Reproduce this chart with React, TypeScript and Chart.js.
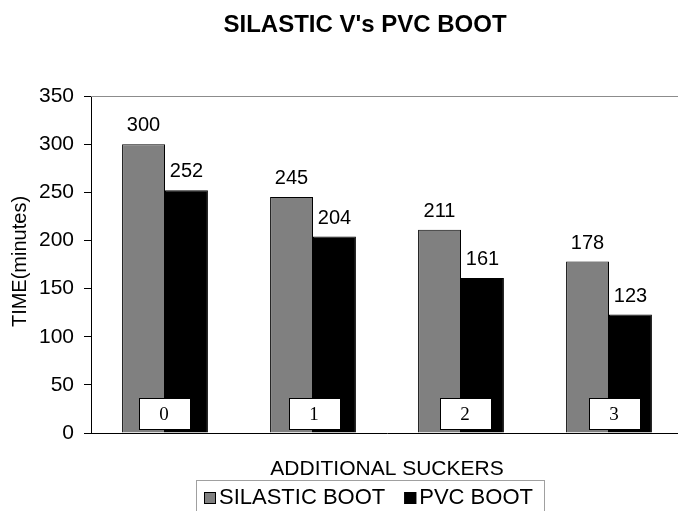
import React, { useEffect, useRef } from 'react';
import { Chart, registerables } from 'chart.js';

Chart.register(...registerables);

const categories = ['0', '1', '2', '3'];
const silasticValues = [300, 245, 211, 178];
const pvcValues = [252, 204, 161, 123];
const seriesNames = ['SILASTIC BOOT', 'PVC BOOT'];
const yMin = 0;
const yMax = 350;
const yStep = 50;
const chartTitle = "SILASTIC V's PVC BOOT";
const xAxisTitle = 'ADDITIONAL SUCKERS';
const yAxisTitle = 'TIME(minutes)';

const SANS = '"Liberation Sans", Arial, Helvetica, sans-serif';
const SERIF = '"Liberation Serif", "Times New Roman", serif';
const GRAY = '#808080';

const decorPlugin = {
  id: 'decor',
  afterDraw(chart: any) {
    const ctx = chart.ctx as CanvasRenderingContext2D;
    const area = chart.chartArea;
    const xScale = chart.scales.x;
    ctx.save();

    // top frame line
    ctx.strokeStyle = '#8c8c8c';
    ctx.lineWidth = 1;
    ctx.beginPath();
    ctx.moveTo(area.left, Math.round(area.top) + 0.5);
    ctx.lineTo(area.right, Math.round(area.top) + 0.5);
    ctx.stroke();

    // value labels
    ctx.fillStyle = '#000';
    ctx.font = `20px ${SANS}`;
    ctx.textAlign = 'center';
    ctx.textBaseline = 'alphabetic';
    chart.data.datasets.forEach((ds: any, di: number) => {
      const meta = chart.getDatasetMeta(di);
      meta.data.forEach((el: any, i: number) => {
        ctx.fillText(String(ds.data[i]), el.x, el.y - 13);
      });
    });

    // category label boxes
    const boxShift = [-1, 1, 4, 5];
    categories.forEach((c, i) => {
      const cx = xScale.getPixelForValue(i) + boxShift[i];
      const bw = 51;
      const bh = 31;
      const by = area.bottom - 35;
      ctx.fillStyle = '#fff';
      ctx.fillRect(Math.round(cx - bw / 2), by, bw, bh);
      ctx.strokeStyle = '#000';
      ctx.lineWidth = 1;
      ctx.strokeRect(Math.round(cx - bw / 2) + 0.5, by + 0.5, bw, bh);
      ctx.fillStyle = '#000';
      ctx.font = `19px ${SERIF}`;
      ctx.textAlign = 'center';
      ctx.textBaseline = 'middle';
      ctx.fillText(c, cx, by + bh / 2 + 2);
    });

    // chart title
    ctx.fillStyle = '#000';
    ctx.font = `bold 24px ${SANS}`;
    ctx.textAlign = 'center';
    ctx.textBaseline = 'alphabetic';
    ctx.fillText(chartTitle, 365, 32);

    // x axis title
    ctx.font = `21px ${SANS}`;
    ctx.fillText(xAxisTitle, 387, 475);

    // y axis title
    ctx.save();
    ctx.translate(20, 261.5);
    ctx.rotate(-Math.PI / 2);
    ctx.font = `20px ${SANS}`;
    ctx.textAlign = 'center';
    ctx.textBaseline = 'middle';
    ctx.fillText(yAxisTitle, 0, 0);
    ctx.restore();

    // legend
    ctx.strokeStyle = '#a0a0a0';
    ctx.lineWidth = 1;
    ctx.strokeRect(196.5, 480.5, 348, 40);
    ctx.font = `22px ${SANS}`;
    ctx.textAlign = 'left';
    ctx.textBaseline = 'alphabetic';
    let x = 204;
    const colors = [GRAY, '#000'];
    seriesNames.forEach((name, i) => {
      ctx.fillStyle = colors[i];
      ctx.fillRect(x, 492, 12, 12);
      ctx.strokeStyle = '#000';
      ctx.strokeRect(x + 0.5, 492.5, 11, 11);
      ctx.fillStyle = '#000';
      ctx.fillText(name, x + 15, 504);
      x = x + 15 + ctx.measureText(name).width + 19;
    });

    ctx.restore();
  },
};

export default function App() {
  const canvasRef = useRef<HTMLCanvasElement | null>(null);

  useEffect(() => {
    const canvas = canvasRef.current;
    if (!canvas) return;
    const chart = new Chart(canvas, {
      type: 'bar',
      data: {
        labels: categories,
        datasets: [
          {
            label: seriesNames[0],
            data: silasticValues,
            backgroundColor: GRAY,
            borderColor: '#000',
            borderWidth: 1,
            categoryPercentage: 0.58,
            barPercentage: 1,
          },
          {
            label: seriesNames[1],
            data: pvcValues,
            backgroundColor: '#000',
            borderColor: '#000',
            borderWidth: 1,
            categoryPercentage: 0.58,
            barPercentage: 1,
          },
        ],
      },
      options: {
        responsive: false,
        animation: false,
        devicePixelRatio: 1,
        layout: { padding: { top: 96, right: 1, bottom: 0, left: 0 } },
        plugins: {
          legend: { display: false },
          title: { display: false },
          tooltip: { enabled: false },
        },
        scales: {
          x: {
            type: 'category',
            offset: true,
            grid: { display: false },
            ticks: { display: false },
            border: { display: true, color: '#000', width: 1 },
            afterFit: (s: any) => {
              s.height = 78;
            },
          },
          y: {
            min: yMin,
            max: yMax,
            ticks: {
              stepSize: yStep,
              color: '#000',
              font: { family: SANS, size: 21 },
              padding: 10,
            },
            grid: {
              drawOnChartArea: false,
              drawTicks: true,
              tickLength: 7,
              color: '#000',
            },
            border: { display: true, color: '#000', width: 1 },
            afterFit: (s: any) => {
              s.width = 91;
            },
          },
        },
      },
      plugins: [decorPlugin],
    });
    return () => chart.destroy();
  }, []);

  return (
    <div
      style={{
        position: 'absolute',
        left: 0,
        top: 0,
        width: 678,
        height: 511,
        overflow: 'hidden',
        background: '#fff',
      }}
    >
      <canvas ref={canvasRef} width={684} height={511} style={{ display: 'block', width: 684, height: 511 }} />
    </div>
  );
}
